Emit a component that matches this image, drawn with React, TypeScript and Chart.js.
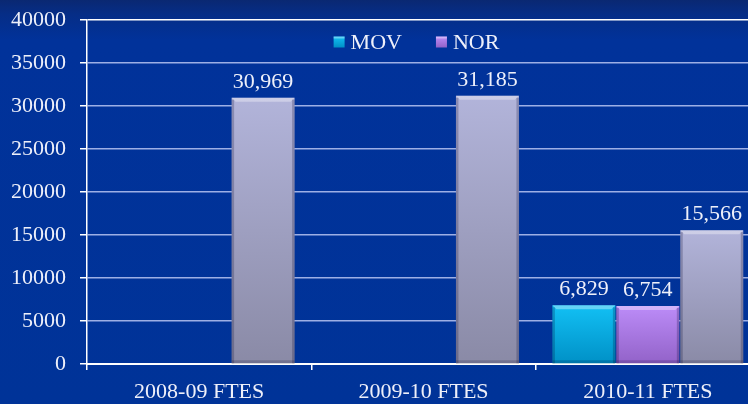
import React, { useEffect, useRef } from "react";
import { Chart, registerables } from "chart.js";

Chart.register(...registerables);

const categories = ["2008-09 FTES", "2009-10 FTES", "2010-11 FTES"];
const movValues: (number | null)[] = [null, null, 6829];
const norValues: (number | null)[] = [null, null, 6754];
const totalValues: (number | null)[] = [30969, 31185, 15566];
const seriesNames = ["MOV", "NOR", "Total"];
const legendNames = ["MOV", "NOR"];
const yMin = 0;
const yMax = 40000;
const yStep = 5000;

const FONT = "'Liberation Serif', 'DejaVu Serif', serif";
const TEXT = "#eef0fa";

const palettes: Record<string, [string, string]> = {
  MOV: ["#12c0f4", "#0090c6"],
  NOR: ["#bc8cf8", "#9262c8"],
  Total: ["#b2b4da", "#8a8aa6"],
};

function barFill(name: string) {
  return (ctx: any) => {
    const chart = ctx.chart;
    const pal = palettes[name];
    if (!chart.chartArea || !chart.scales || !chart.scales.y || ctx.raw == null) return pal[0];
    const y = chart.scales.y;
    const top = y.getPixelForValue(ctx.raw);
    const bottom = y.getPixelForValue(0);
    const g = chart.ctx.createLinearGradient(0, top, 0, bottom);
    g.addColorStop(0, pal[0]);
    g.addColorStop(1, pal[1]);
    return g;
  };
}

const bevelPlugin = {
  id: "bevel",
  afterDatasetsDraw(chart: any) {
    const c = chart.ctx;
    chart.data.datasets.forEach((ds: any, di: number) => {
      const meta = chart.getDatasetMeta(di);
      meta.data.forEach((bar: any, i: number) => {
        if (ds.data[i] == null) return;
        const { x, y, base, width } = bar.getProps(["x", "y", "base", "width"], true);
        const l = x - width / 2;
        const r = x + width / 2;
        c.save();
        c.fillStyle = "rgba(255,255,255,0.35)";
        c.beginPath();
        c.moveTo(l, y);
        c.lineTo(r, y);
        c.lineTo(r - 4, y + 4);
        c.lineTo(l + 4, y + 4);
        c.closePath();
        c.fill();
        c.fillStyle = "rgba(0,0,40,0.22)";
        c.fillRect(l, y + 2, 2.5, base - y - 2);
        c.fillRect(r - 2.5, y + 2, 2.5, base - y - 2);
        c.fillStyle = "rgba(0,0,40,0.18)";
        c.fillRect(l, base - 3, width, 3);
        c.restore();
      });
    });
  },
};

const valueLabelPlugin = {
  id: "valueLabels",
  afterDatasetsDraw(chart: any) {
    const c = chart.ctx;
    c.save();
    c.font = `22px ${FONT}`;
    c.fillStyle = TEXT;
    c.textAlign = "center";
    c.textBaseline = "alphabetic";
    chart.data.datasets.forEach((ds: any, di: number) => {
      const meta = chart.getDatasetMeta(di);
      meta.data.forEach((bar: any, i: number) => {
        const v = ds.data[i];
        if (v == null) return;
        c.fillText(v.toLocaleString("en-US"), bar.x, bar.y - 10);
      });
    });
    c.restore();
  },
};

const legendPlugin = {
  id: "innerLegend",
  afterDraw(chart: any) {
    const c = chart.ctx;
    const area = chart.chartArea;
    c.save();
    c.font = `22px ${FONT}`;
    c.textBaseline = "middle";
    const box = 11;
    const gap = 6;
    const spacing = 34;
    const widths = legendNames.map((n) => box + gap + c.measureText(n).width);
    const total = widths.reduce((a, b) => a + b, 0) + spacing * (legendNames.length - 1);
    let x = (area.left + area.right) / 2 - 7 - total / 2;
    const cy = area.top + 22;
    legendNames.forEach((n, i) => {
      const pal = palettes[n];
      const g = c.createLinearGradient(0, cy - box / 2, 0, cy + box / 2);
      g.addColorStop(0, pal[0]);
      g.addColorStop(1, pal[1]);
      c.fillStyle = g;
      c.fillRect(x, cy - box / 2, box, box);
      c.fillStyle = "rgba(255,255,255,0.35)";
      c.fillRect(x, cy - box / 2, box, 2);
      c.fillStyle = TEXT;
      c.fillText(n, x + box + gap, cy + 1);
      x += widths[i] + spacing;
    });
    c.restore();
  },
};

export default function App() {
  const ref = useRef<HTMLCanvasElement | null>(null);

  useEffect(() => {
    if (!ref.current) return;
    const datasets = [movValues, norValues, totalValues].map((vals, i) => ({
      label: seriesNames[i],
      data: vals,
      backgroundColor: barFill(seriesNames[i]),
      borderWidth: 0,
      categoryPercentage: 0.855,
      barPercentage: 0.985,
    }));
    const chart = new Chart(ref.current, {
      type: "bar",
      data: { labels: categories, datasets },
      options: {
        animation: false,
        responsive: false,
        maintainAspectRatio: false,
        layout: { autoPadding: false, padding: { top: 20, right: 20, left: 0, bottom: 0 } },
        plugins: {
          legend: { display: false },
          tooltip: { enabled: false },
        },
        scales: {
          x: {
            offset: true,
            grid: {
              offset: true,
              drawOnChartArea: false,
              drawTicks: true,
              tickLength: 6,
              color: "#ffffff",
              lineWidth: 1.5,
            },
            border: { display: true, color: "#ffffff", width: 2 },
            ticks: {
              color: TEXT,
              font: { family: FONT, size: 22 },
              padding: 9,
              maxRotation: 0,
            },
            afterFit(scale: any) {
              scale.height = 40;
              scale.paddingLeft = 0;
              scale.paddingRight = 0;
            },
          },
          y: {
            min: yMin,
            max: yMax,
            grid: {
              color: (ctx: any) =>
                ctx.tick && ctx.tick.value === yMax ? "#ffffff" : "rgba(210,218,255,0.75)",
              lineWidth: 1.5,
              tickLength: 7,
              drawTicks: true,
              tickColor: "#ffffff",
            },
            border: { display: true, color: "#ffffff", width: 1.5 },
            ticks: {
              stepSize: yStep,
              color: TEXT,
              font: { family: FONT, size: 22 },
              padding: 14,
              callback: (v: any) => String(v),
            },
            afterFit(scale: any) {
              scale.width = 87;
              scale.paddingTop = 0;
              scale.paddingBottom = 0;
            },
          },
        },
      },
      plugins: [bevelPlugin, valueLabelPlugin, legendPlugin],
    });
    return () => chart.destroy();
  }, []);

  return (
    <div
      style={{
        position: "fixed",
        left: 0,
        top: 0,
        width: 748,
        height: 404,
        overflow: "hidden",
        background:
          "linear-gradient(180deg, #0a2872 0px, #062d86 14px, #01329a 40px, #003398 100%)",
      }}
    >
      <canvas ref={ref} width={780} height={404} style={{ display: "block" }} />
    </div>
  );
}
